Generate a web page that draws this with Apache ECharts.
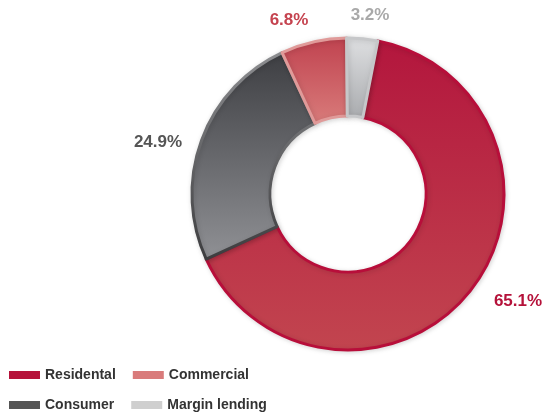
<!DOCTYPE html>
<html>
<head>
<meta charset="utf-8">
<script src="https://cdn.jsdelivr.net/npm/echarts@6/dist/echarts.min.js"></script>
<style>
  html, body { margin: 0; padding: 0; background: #ffffff; }
  #chart { width: 546px; height: 415px; }
</style>
</head>
<body>
<div id="chart"></div>
<script>
// Loan book split by segment, in percent (clockwise from the top)
const segments = ['Residental', 'Consumer', 'Commercial', 'Margin lending'];
const shares = [65.1, 24.9, 6.8, 3.2];
const legendRow1 = ['Residental', 'Commercial'];
const legendRow2 = ['Consumer', 'Margin lending'];

// Slice styling: fill gradient (top -> bottom), outline, label colour, swatch
const styles = {
  'Residental':     { top: '#b3163d', bottom: '#c2454f', border: '#b80e3a', label: '#b5123a', swatch: '#b5123a' },
  'Consumer':       { top: '#3d3e42', bottom: '#909195', border: ['#8d8e91', '#3c3c3e'], label: '#555555', swatch: '#555555' },
  'Commercial':     { top: '#c0424f', bottom: '#d97c7b', border: '#e09a99', label: '#c5434f', swatch: '#d97b7b' },
  'Margin lending': { top: '#dfe0e2', bottom: '#a9abae', border: '#c6c7c9', label: '#a9a9a9', swatch: '#cfcfcf' }
};

// Where each percentage label sits
const labelSpots = {
  'Residental': [518, 301],
  'Consumer': [158, 142],
  'Commercial': [289, 20],
  'Margin lending': [370, 15]
};

const grad = (a, b) => new echarts.graphic.LinearGradient(0, 0, 0, 1, [
  { offset: 0, color: a }, { offset: 1, color: b }
]);

const chart = echarts.init(document.getElementById('chart'), null, { renderer: 'canvas' });

const pieData = segments.map((name, i) => {
  const s = styles[name];
  return {
    name: name,
    value: shares[i],
    itemStyle: {
      color: grad(s.top, s.bottom),
      borderColor: Array.isArray(s.border) ? grad(s.border[0], s.border[1]) : s.border,
      borderWidth: 3
    },
    label: { color: s.label }
  };
});

// Legend entries use flat swatches without outlines
const legendItems = names => names.map(n => ({
  name: n,
  itemStyle: { color: styles[n].swatch, borderWidth: 0, shadowBlur: 0, shadowOffsetX: 0, shadowOffsetY: 0 }
}));

const legendBase = {
  icon: 'rect',
  itemWidth: 31,
  itemHeight: 8,
  itemGap: 17,
  padding: 0,
  orient: 'horizontal',
  selectedMode: false,
  textStyle: {
    fontFamily: 'Liberation Sans, Arial, sans-serif',
    fontWeight: 'bold',
    fontSize: 14,
    color: '#333333'
  }
};

chart.setOption({
  animation: false,
  legend: [
    Object.assign({}, legendBase, { left: 9, top: 368, data: legendItems(legendRow1) }),
    Object.assign({}, legendBase, { left: 9, top: 398, data: legendItems(legendRow2) })
  ],
  series: [{
    type: 'pie',
    center: [348, 194],
    radius: [78, 156],
    startAngle: 79,
    clockwise: true,
    avoidLabelOverlap: false,
    itemStyle: {
      shadowBlur: 5,
      shadowColor: 'rgba(0,0,0,0.15)',
      shadowOffsetX: 1,
      shadowOffsetY: 1
    },
    label: {
      show: true,
      position: 'outside',
      formatter: p => p.value.toFixed(1) + '%',
      fontFamily: 'Liberation Sans, Arial, sans-serif',
      fontWeight: 'bold',
      fontSize: 17
    },
    labelLine: { show: false },
    labelLayout: p => {
      const spot = labelSpots[segments[p.dataIndex]];
      return { x: spot[0], y: spot[1], align: 'center', verticalAlign: 'middle' };
    },
    emphasis: { disabled: true },
    data: pieData
  }]
});
</script>
</body>
</html>
